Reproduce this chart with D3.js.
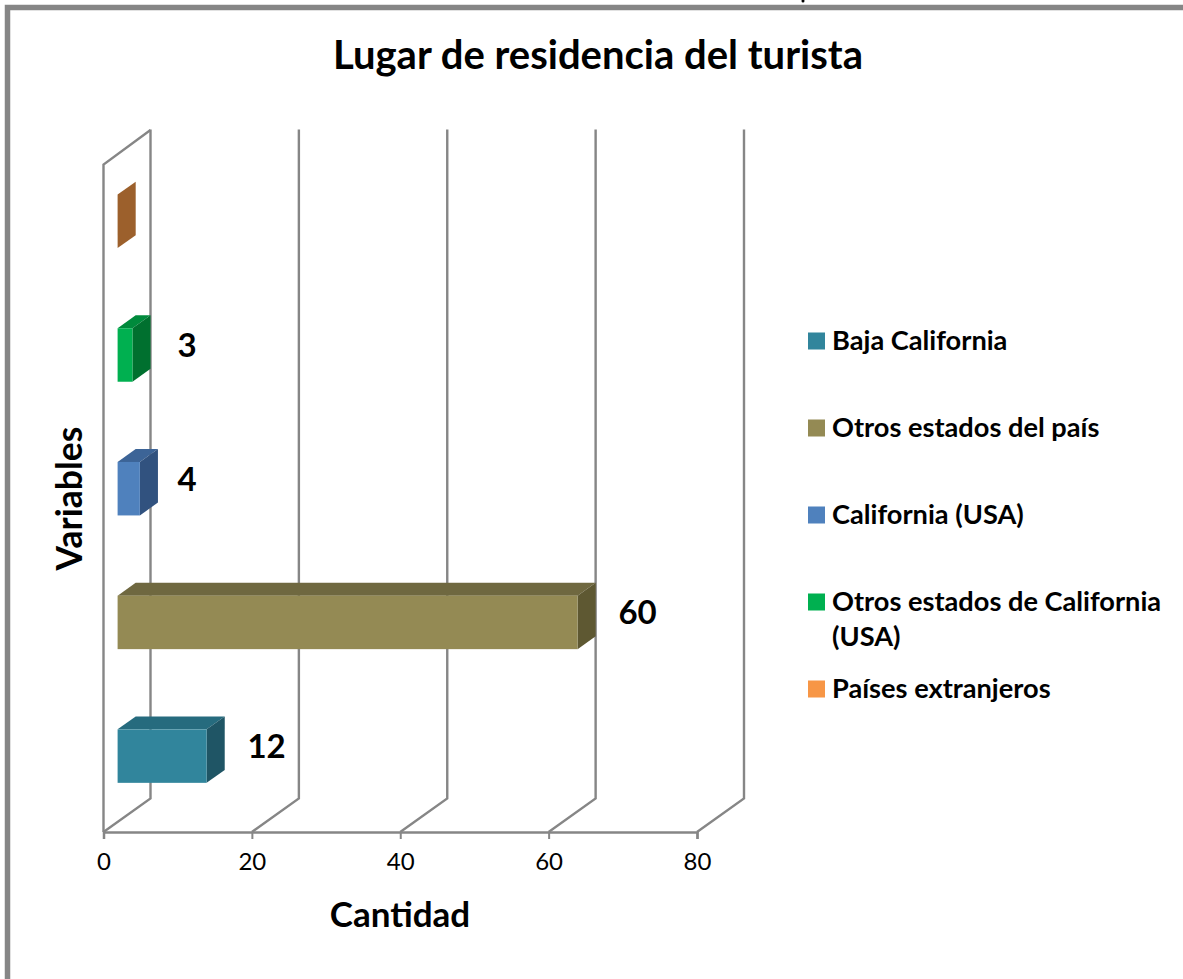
<!DOCTYPE html>
<html>
<head>
<meta charset="utf-8">
<script src="https://cdn.jsdelivr.net/npm/d3@7"></script>
<style>
	html, body { margin: 0; padding: 0; background: #fff; overflow: hidden; }
	svg { display: block; }
	text { font-family: Lato, "Open Sans", sans-serif; fill: #000; }
</style>
</head>
<body>
<div id="chart"></div>
<script>
// chart values
const categories = ['Baja California', 'Otros estados del país', 'California (USA)', 'Otros estados de California (USA)', 'Países extranjeros'];
const labelValues = [12, 60, 4, 3, null];
// drawn bar length differs a bit from the printed label in the original
const barLengths = [12, 62, 3, 2, 0];
const xTicks = [0, 20, 40, 60, 80];
const frontColors = ['#31859C', '#948A54', '#4F81BD', '#00B050', '#F79646'];
const sideColors = ['#1F5565', '#5E5832', '#31527F', '#00702F', '#9C602C'];
const topColors = ['#266B7E', '#6F6840', '#3C6497', '#008A3C', '#B9722F'];
const legendLines = [['Baja California'], ['Otros estados del país'], ['California (USA)'], ['Otros estados de California', '(USA)'], ['Países extranjeros']];

const width = 1183, height = 979;
const svg = d3.select('#chart').append('svg').attr('width', width).attr('height', height);

// outer frame, runs off the right and bottom of the picture
svg.append('rect').attr('x', 7.5).attr('y', 7.5).attr('width', width + 20).attr('height', height + 20)
	.attr('fill', '#fff').attr('stroke', '#868686').attr('stroke-width', 5.5);

// stray speck above the frame
svg.append('ellipse').attr('cx', 803).attr('cy', 1).attr('rx', 1.5).attr('ry', 1.5).attr('fill', '#000');

svg.append('text').attr('x', 598).attr('y', 69).attr('text-anchor', 'middle')
	.attr('font-size', 40).attr('font-weight', 700).text('Lugar de residencia del turista');

// scales
const x = d3.scaleLinear().domain([0, 80]).range([103.5, 697]);
const y = d3.scaleBand().domain(categories).range([833, 164.5]).paddingInner(0.6).paddingOuter(0.3);
const depthX = d3.scaleLinear().domain([0, 1]).range([0, 47]);
const depthY = d3.scaleLinear().domain([0, 1]).range([0, -33.5]);
const gridColor = '#868686';
const barNear = 0.3, barFar = 0.685;

// walls and grid
const grid = svg.append('g').attr('fill', 'none').attr('stroke', gridColor).attr('stroke-width', 2.4);
grid.selectAll('.gridline').data(xTicks).enter().append('path')
	.attr('class', 'gridline')
	.attr('d', d => 'M' + x(d) + ',832L' + (x(d) + depthX(1)) + ',' + (832 + depthY(1)) + 'V' + (163 + depthY(1)));
grid.append('path')
	.attr('d', 'M' + x(0) + ',832V164.5L' + (x(0) + depthX(1)) + ',' + (163.5 + depthY(1)));

// x axis
const axis = svg.append('g').attr('transform', 'translate(0,832)')
	.call(d3.axisBottom(x).tickValues(xTicks).tickSize(7).tickPadding(14));
axis.select('.domain').attr('stroke', gridColor).attr('stroke-width', 2.5);
axis.selectAll('.tick line').attr('stroke', gridColor).attr('stroke-width', 2);
axis.selectAll('.tick text').attr('font-size', 24).style('font-family', 'Lato').attr('fill', '#000');

// bars
const bars = svg.append('g').selectAll('.bar').data(categories).enter().append('g').attr('class', 'bar');

function barBox(i) {
	const x0 = x(0) + depthX(barNear);
	const y0 = y(categories[i]) + depthY(barNear);
	return { x0: x0, x1: x0 + (x(barLengths[i]) - x(0)), y0: y0, y1: y0 + y.bandwidth(), dx: depthX(barFar - barNear), dy: depthY(barFar - barNear) };
}
function poly(points) {
	return points.map(p => p.join(',')).join(' ');
}

bars.append('polygon').attr('fill', (d, i) => topColors[i])
	.attr('points', (d, i) => { const b = barBox(i); return poly([[b.x0, b.y0], [b.x1, b.y0], [b.x1 + b.dx, b.y0 + b.dy], [b.x0 + b.dx, b.y0 + b.dy]]); });
bars.append('polygon').attr('fill', (d, i) => sideColors[i])
	.attr('points', (d, i) => { const b = barBox(i); return poly([[b.x1, b.y0], [b.x1 + b.dx, b.y0 + b.dy], [b.x1 + b.dx, b.y1 + b.dy], [b.x1, b.y1]]); });
bars.append('rect').attr('fill', (d, i) => frontColors[i])
	.attr('x', (d, i) => barBox(i).x0)
	.attr('y', (d, i) => barBox(i).y0)
	.attr('width', (d, i) => barBox(i).x1 - barBox(i).x0)
	.attr('height', y.bandwidth());

// value labels, the short bars share one column
svg.append('g').selectAll('.value').data(categories).enter().append('text')
	.attr('class', 'value')
	.filter((d, i) => labelValues[i] !== null)
	.attr('x', d => { const b = barBox(categories.indexOf(d)); return b.x1 > 187 ? b.x1 + 60 : 187; })
	.attr('y', d => barBox(categories.indexOf(d)).y0 + 17)
	.attr('dy', '0.35em')
	.attr('text-anchor', 'middle')
	.attr('font-size', 33).attr('font-weight', 700)
	.text(d => labelValues[categories.indexOf(d)]);

// axis titles
svg.append('text').attr('x', 400).attr('y', 927).attr('text-anchor', 'middle')
	.attr('font-size', 35).attr('font-weight', 700).text('Cantidad');
svg.append('text').attr('transform', 'translate(82,498.5) rotate(-90)').attr('text-anchor', 'middle')
	.attr('font-size', 35.5).attr('font-weight', 700).text('Variables');

// legend
const legendY = d3.scalePoint().domain(categories).range([341, 689]);
const legend = svg.append('g').selectAll('.legend').data(categories).enter().append('g').attr('class', 'legend');
legend.append('rect').attr('x', 808).attr('width', 17).attr('height', 17)
	.attr('y', d => legendY(d) - 8.5).attr('fill', (d, i) => frontColors[i]);
legend.each(function (d, i) {
	const g = d3.select(this);
	legendLines[i].forEach((line, j) => {
		g.append('text').attr('x', 832).attr('y', legendY(d) + j * 35 + 9)
			.attr('font-size', 27.2).attr('font-weight', 700).text(line);
	});
});
</script>
</body>
</html>
